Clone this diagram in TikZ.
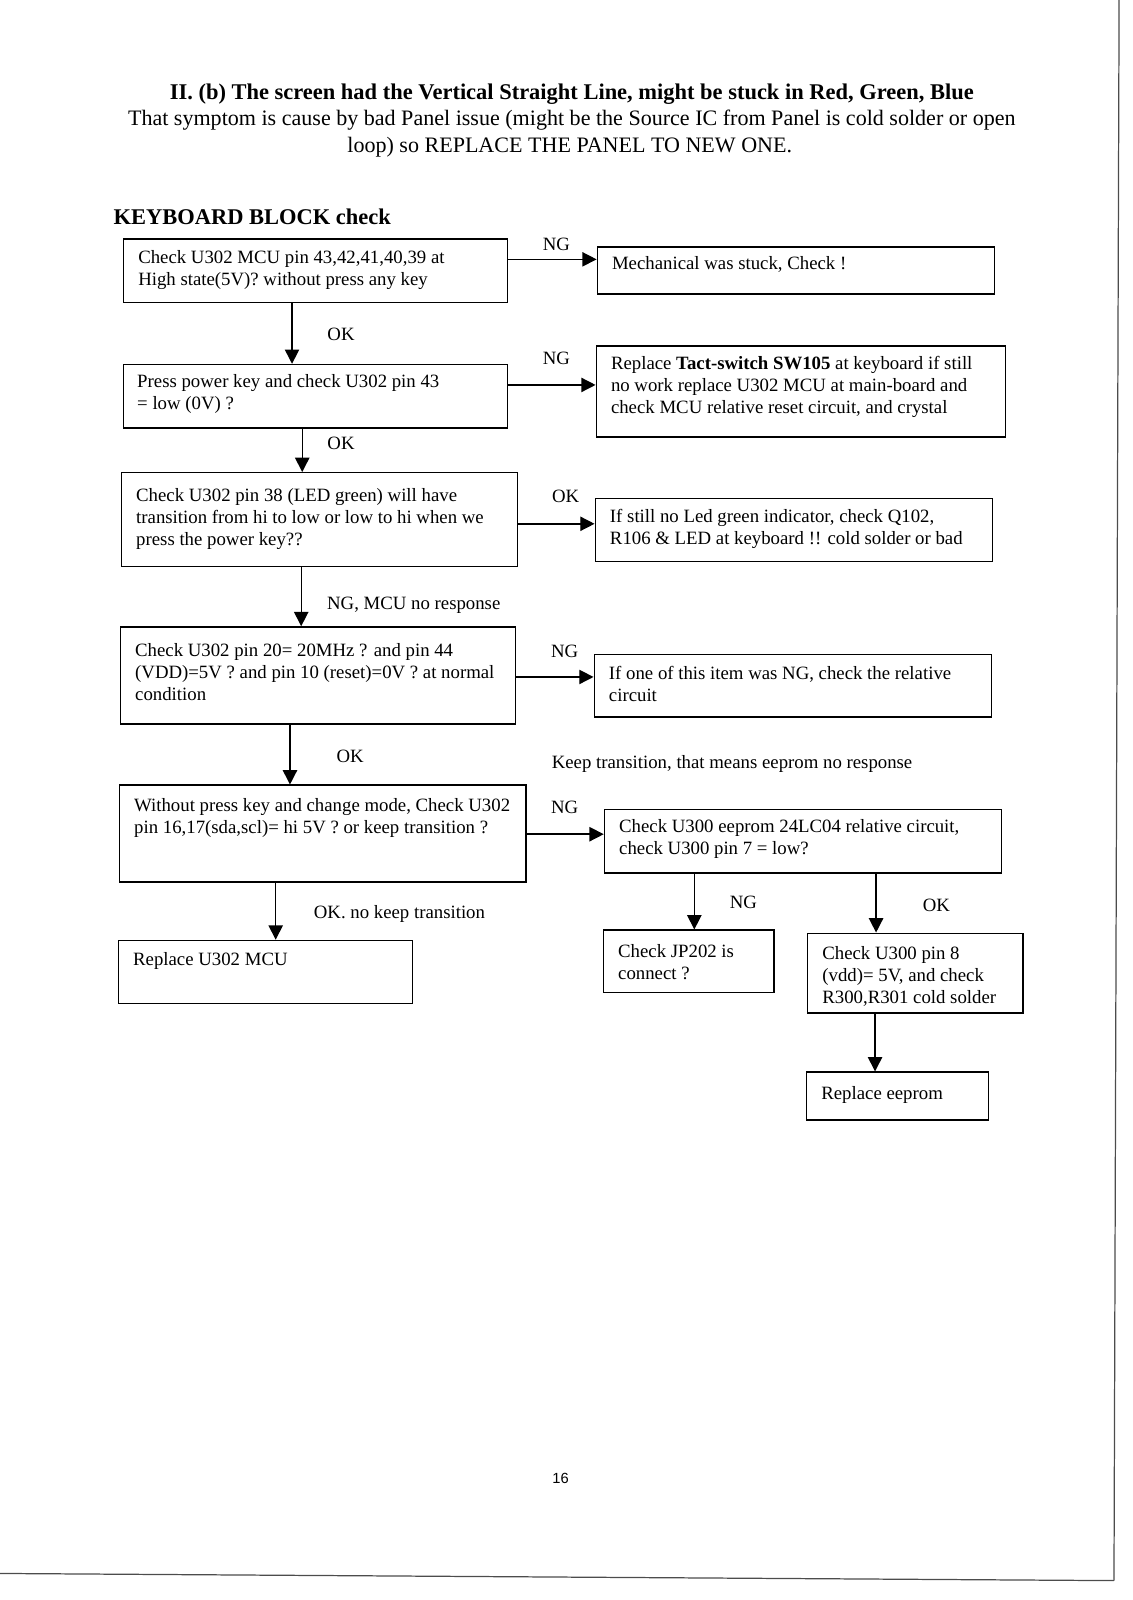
\documentclass[tikz,border=0pt]{standalone}
\usepackage{fontspec}
\setmainfont{Liberation Serif}
\newfontfamily\pnfont{Liberation Sans}
\usetikzlibrary{arrows.meta,fit}
\begin{document}
\begin{tikzpicture}[x=0.5pt,y=-0.5pt,
  box/.style={draw, line width=0.7pt, inner sep=0pt},
  txt/.style={anchor=west, inner sep=0pt, align=left, yshift=-1pt, font=\fontsize{9.2}{10.8}\selectfont},
  lbl/.style={inner sep=0pt, font=\fontsize{9.2}{10.8}\selectfont},
  arr/.style={line width=0.7pt, -{Triangle[length=7pt,width=7pt]}},
  border/.style={line width=0.6pt, draw=black!70}]
\useasboundingbox (0,0) rectangle (1109,1567);
% title
\node[inner sep=0pt, font=\fontsize{11}{13}\selectfont\bfseries] (t1) at (560,92) {II. (b) The screen had the Vertical Straight Line, might be stuck in Red, Green, Blue};
\node[inner sep=0pt, font=\fontsize{10.8}{13}\selectfont] (t2) at (560,118) {That symptom is cause by bad Panel issue (might be the Source IC from Panel is cold solder or open};
\node[inner sep=0pt, font=\fontsize{10.8}{13}\selectfont] (t3) at (558,144) {loop) so REPLACE THE PANEL TO NEW ONE.};
\node[anchor=west, inner sep=0pt, font=\fontsize{11}{13}\selectfont\bfseries] (kb) at (111,212) {KEYBOARD BLOCK check};
% boxes
\node[box, fit={(121,234) (497,296)}] (A) {};
\node[box, fit={(585,242) (974,288)}] (AR) {};
\node[box, fit={(121,357) (497,419)}] (B) {};
\node[box, fit={(584,339) (985,428)}] (BR) {};
\node[box, fit={(119,463) (507,555)}] (C) {};
\node[box, fit={(583,488) (972,550)}] (CR) {};
\node[box, fit={(118,614) (505,709)}] (D) {};
\node[box, fit={(582,641) (971,702)}] (DR) {};
\node[box, fit={(117,769) (515,864)}] (E) {};
\node[box, fit={(592,793) (981,855)}] (ER) {};
\node[box, fit={(116,921) (404,983)}] (F) {};
\node[box, fit={(591,911) (758,972)}] (G) {};
\node[box, fit={(791,914) (1002,992)}] (H) {};
\node[box, fit={(790,1050) (968,1097)}] (I) {};
% texts
\node[txt] (tA) at (135,262) {Check U302 MCU pin 43,42,41,40,39 at\\High state(5V)? without press any key};
\node[txt] (tAR) at (599,257) {Mechanical was stuck, Check !};
\node[txt] (tB) at (134,384) {Press power key and check U302 pin 43\\= low (0V) ?};
\node[txt] (tBR) at (598,377) {Replace \textbf{Tact-switch SW105} at keyboard if still\\no work replace U302 MCU at main-board and\\check MCU relative reset circuit, and crystal};
\node[txt] (tC) at (133,506) {Check U302 pin 38 (LED green) will have\\transition from hi to low or low to hi when we\\press the power key??};
\node[txt] (tCR) at (597,516) {If still no Led green indicator, check Q102,\\R106 \& LED at keyboard !! cold solder or bad};
\node[txt] (tD) at (132,656) {Check U302 pin 20= 20MHz ? and pin 44\\(VDD)=5V ? and pin 10 (reset)=0V ? at normal\\condition};
\node[txt] (tDR) at (596,668) {If one of this item was NG, check the relative\\circuit};
\node[txt] (tE) at (131,799) {Without press key and change mode, Check U302\\pin 16,17(sda,scl)= hi 5V ? or keep transition ?};
\node[txt] (tER) at (606,820) {Check U300 eeprom 24LC04 relative circuit,\\check U300 pin 7 = low?};
\node[txt] (tF) at (130,939) {Replace U302 MCU};
\node[txt] (tG) at (605,940) {Check JP202 is\\connect ?};
\node[txt] (tH) at (805,954) {Check U300 pin 8\\(vdd)= 5V, and check\\R300,R301 cold solder};
\node[txt] (tI) at (804,1070) {Replace eeprom};
% labels
\node[lbl] (l1) at (545,239) {NG};
\node[lbl] (l2) at (334,327) {OK};
\node[lbl] (l3) at (545,351) {NG};
\node[lbl] (l4) at (334,434) {OK};
\node[lbl] (l5) at (554,486) {OK};
\node[lbl, anchor=west] (l6) at (320,593) {NG, MCU no response};
\node[lbl] (l7) at (553,638) {NG};
\node[lbl] (l8) at (343,741) {OK};
\node[lbl, anchor=west] (l9) at (540,748) {Keep transition, that means eeprom no response};
\node[lbl] (l10) at (553,791) {NG};
\node[lbl, anchor=west] (l11) at (307,895) {OK. no keep transition};
\node[lbl] (l12) at (728,884) {NG};
\node[lbl] (l13) at (917,887) {OK};
% arrows
\draw[arr] (A.east |- 0,254) -- (AR.west |- 0,254);
\draw[arr] (B.east |- 0,377) -- (BR.west |- 0,377);
\draw[arr] (C.east |- 0,513) -- (CR.west |- 0,513);
\draw[arr] (D.east |- 0,663) -- (DR.west |- 0,663);
\draw[arr] (E.east |- 0,817) -- (ER.west |- 0,817);
\draw[arr] (A.south -| 286,0) -- (B.north -| 286,0);
\draw[arr] (B.south -| 296,0) -- (C.north -| 296,0);
\draw[arr] (C.south -| 295,0) -- (D.north -| 295,0);
\draw[arr] (D.south -| 284,0) -- (E.north -| 284,0);
\draw[arr] (E.south -| 270,0) -- (F.north -| 270,0);
\draw[arr] (ER.south -| 680,0) -- (G.north -| 680,0);
\draw[arr] (ER.south -| 858,0) -- (H.north -| 858,0);
\draw[arr] (H.south -| 857,0) -- (I.north -| 857,0);
% page number
\node[inner sep=0pt, font=\pnfont\fontsize{7.2}{9}\selectfont] (pn) at (549,1448) {16};
% scan page edges
\coordinate (c1) at (1096,0);
\coordinate (c2) at (1091,1548);
\coordinate (c3) at (0,1541);
\draw[border] (c1) -- (c2);
\draw[border] (c3) -- (c2);
\end{tikzpicture}
\end{document}
